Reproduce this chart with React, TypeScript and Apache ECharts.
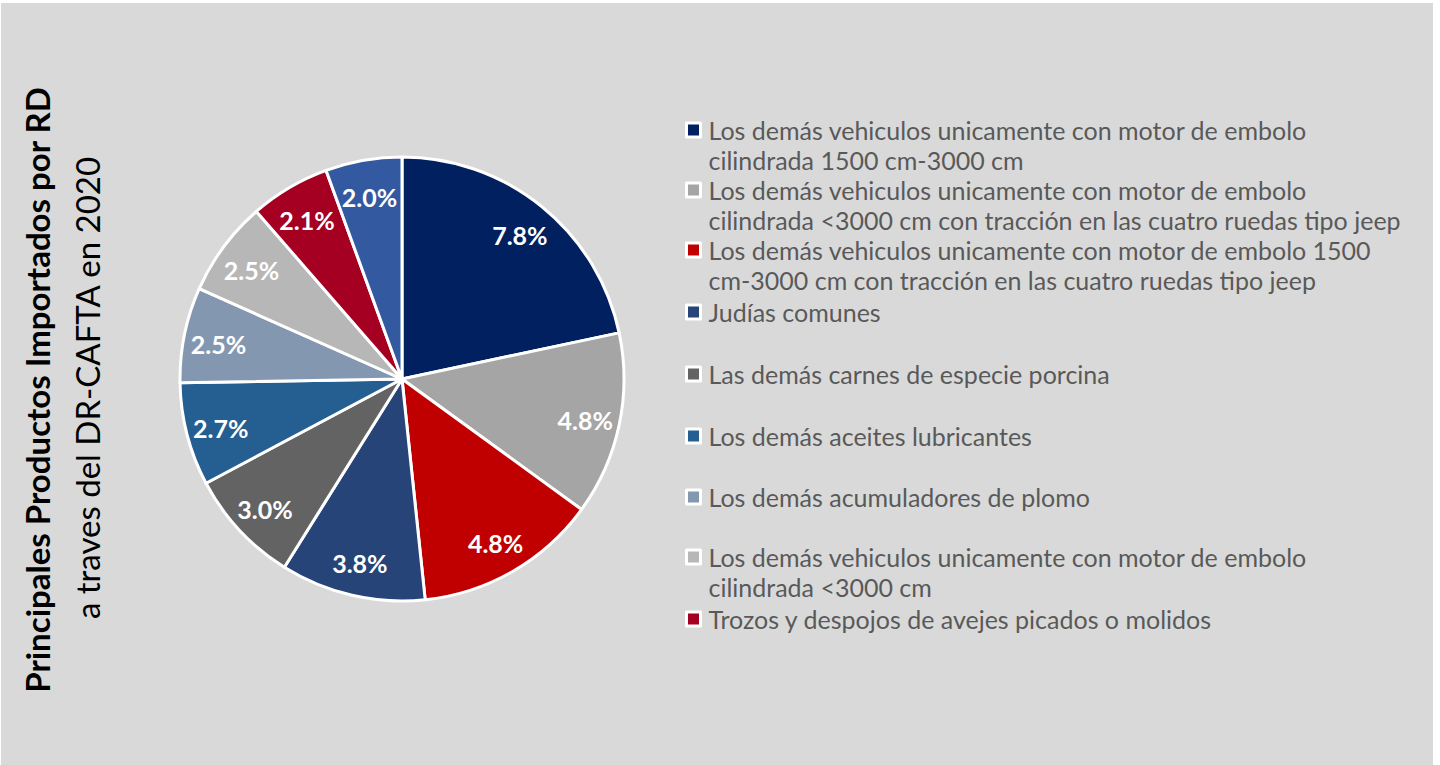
import React, { useEffect, useRef } from "react";
import * as echarts from "echarts";

const categories = [
  "Los demás vehiculos unicamente con motor de embolo\ncilindrada 1500 cm-3000 cm",
  "Los demás vehiculos unicamente con motor de embolo\ncilindrada <3000 cm con tracción en las cuatro ruedas tipo jeep",
  "Los demás vehiculos unicamente con motor de embolo 1500\ncm-3000 cm con tracción en las cuatro ruedas tipo jeep",
  "Judías comunes",
  "Las demás carnes de especie porcina",
  "Los demás aceites lubricantes",
  "Los demás acumuladores de plomo",
  "Los demás vehiculos unicamente con motor de embolo\ncilindrada <3000 cm",
  "Trozos y despojos de avejes picados o molidos",
  "Otros",
];
const values = [7.8, 4.8, 4.8, 3.8, 3.0, 2.7, 2.5, 2.5, 2.1, 2.0];
const colors = [
  "#002060", "#A5A5A5", "#C00000", "#264478", "#636363",
  "#255E91", "#8497B0", "#B7B7B7", "#A50021", "#335AA1",
];
const legendCenters = [127, 187, 247, 309, 371, 433, 494, 554, 616];
const titleBold = "Principales Productos Importados por RD";
const titleRegular = "a traves del DR-CAFTA en 2020";

export default function App() {
  const ref = useRef<HTMLDivElement>(null);
  useEffect(() => {
    if (!ref.current) return;
    const chart = echarts.init(ref.current, null, { renderer: "svg" });
    const font = "Lato";
    const cx = 401, cy = 376, R = 222;
    const legends = legendCenters.map((c, i) => {
      const twoLine = categories[i].split("\n").length > 1;
      return {
        show: true,
        orient: "vertical" as const,
        left: 684,
        top: twoLine ? c - 45 : c - 15,
        padding: 0,
        itemWidth: 14,
        itemHeight: 14,
        selectedMode: false,
        icon: "rect",
        formatter: (name: string) => (twoLine ? "\n" + name : name),
        itemStyle: { borderColor: "#ffffff", borderWidth: 3 },
        textStyle: {
          color: "#595959",
          fontFamily: font,
          fontSize: 25,
          lineHeight: 30,
          padding: [0, 0, 0, 3],
        },
        data: [{ name: categories[i], itemStyle: { color: colors[i], borderColor: "#ffffff", borderWidth: 3 } }],
      };
    });
    const data = categories.map((n, i) => ({ name: n, value: values[i], itemStyle: { color: colors[i] } }));
    chart.setOption({
      animation: false,
      backgroundColor: "#D9D9D9",
      legend: legends,
      graphic: [
        {
          type: "text",
          x: 36,
          y: 387,
          rotation: Math.PI / 2,
          style: {
            text: titleBold,
            fontFamily: font,
            fontWeight: "bold",
            fontSize: 33,
            fill: "#000000",
            align: "center",
            verticalAlign: "middle",
          },
        },
        {
          type: "text",
          x: 86,
          y: 385,
          rotation: Math.PI / 2,
          style: {
            text: titleRegular,
            fontFamily: font,
            fontSize: 33,
            fill: "#000000",
            align: "center",
            verticalAlign: "middle",
          },
        },
      ],
      series: [
        {
          type: "pie",
          center: [cx, cy],
          radius: [0, R],
          startAngle: 90,
          clockwise: true,
          silent: true,
          itemStyle: { borderColor: "#ffffff", borderWidth: 3 },
          label: { show: false },
          labelLine: { show: false },
          emphasis: { disabled: true },
          data,
        },
        {
          type: "pie",
          center: [cx, cy + 2],
          radius: [R * 0.66, R],
          startAngle: 90,
          clockwise: true,
          silent: true,
          legendHoverLink: false,
          itemStyle: { color: "rgba(0,0,0,0)", borderWidth: 0 },
          label: {
            show: true,
            position: "inside",
            formatter: (p: any) => p.value.toFixed(1) + "%",
            color: "#ffffff",
            fontFamily: font,
            fontWeight: "bold",
            fontSize: 25,
          },
          labelLine: { show: false },
          emphasis: { disabled: true },
          data: categories.map((n, i) => ({ name: n, value: values[i], itemStyle: { color: "rgba(0,0,0,0)" } })),
        },
      ],
    });
    return () => chart.dispose();
  }, []);
  return (
    <div
      ref={ref}
      style={{ position: "fixed", left: 1, top: 3, width: 1432, height: 762 }}
    />
  );
}
